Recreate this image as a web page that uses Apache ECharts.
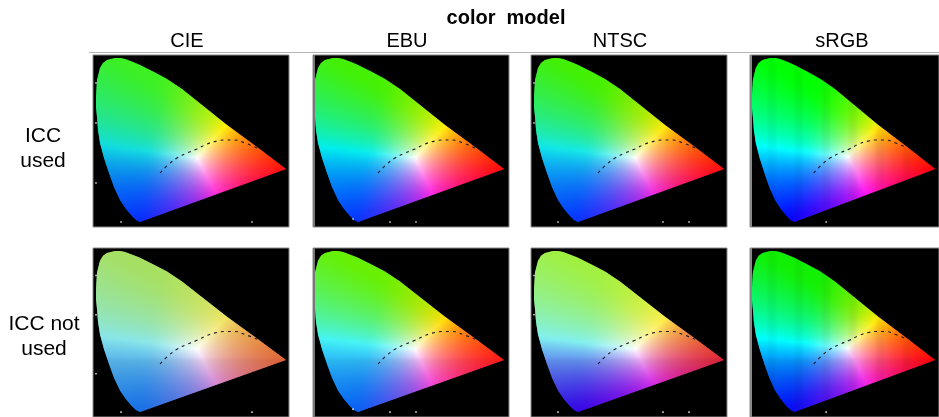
<!DOCTYPE html>
<html><head><meta charset="utf-8">
<style>html,body{margin:0;padding:0;background:#fff;overflow:hidden}#c{width:939px;height:417px}</style>
<script src="https://cdn.jsdelivr.net/npm/echarts@6/dist/echarts.min.js"></script></head>
<body><div id="c"></div>
<script>
const columns = ['CIE','EBU','NTSC','sRGB'];
const rows = ['ICC\nused','ICC not\nused'];
const heading = 'color  model';

// spectral locus outline, read in panel pixels
const locusX = [22,27,32,40,47,61,74,89,104,134,164,193,47,43,39,33,27,21,16,11,7,5,4,3,3,4,7,10,14,18];
const locusY = [3,3,4,7,10,17,24,34,46,70,92,114,167,165,161,154,145,132,118,103,88,75,62,52,42,25,13,8,5,4];
// dashed blackbody arc
const arcX = [67,75,84,94,104,114,124,133,141,152,164];
const arcY = [118,110,103,98,94,89,86,85,85,88,93];

// where red, green, blue primaries and white fall in a panel (by column)
const redXY   = [[193,115],[190,113],[192,114],[190,112]];
const greenXY = [[68,35],[72,38],[68,35],[72,42]];
const blueXY  = [[47,166],[45,165],[45,165],[43,162]];
const whiteXY = [[104,103],[104,103],[104,103],[103,102]];

// displayed colour of pure red, green, blue, yellow, cyan, magenta per panel
const shadesCIEused  = ['#ff0505','#3cf020','#0028ff','#ffee00','#10dde0','#ff20d8'];
const shadesEBUused  = ['#ff0505','#44f000','#0030ff','#ffee00','#00eeee','#ff20e0'];
const shadesNTSCused = ['#ff0505','#42f000','#0030ff','#ffe800','#11e8e8','#ee20e0'];
const shadesSRGBused = ['#ff0000','#00ff00','#0000ff','#ffee00','#00ffff','#ff10f0'];
const shadesCIEnot   = ['#e06030','#a6e060','#1070f0','#f0e460','#88e6e8','#dd88dd'];
const shadesEBUnot   = ['#ff1510','#66f000','#0060ff','#ffdd00','#44f4f4','#ff44e0'];
const shadesNTSCnot  = ['#dd2030','#a0f040','#3000ee','#ffee44','#80f0f0','#dd22ee'];
const shadesSRGBnot  = ['#ff0000','#10f000','#0008ff','#ffee00','#00ffff','#ff20f0'];
const panelShades = [shadesCIEused,shadesEBUused,shadesNTSCused,shadesSRGBused,shadesCIEnot,shadesEBUnot,shadesNTSCnot,shadesSRGBnot];
const displayGamma = 1.1;
const softEdge = 0.05;

// small white tick specks along the frame
const dotsX = [[28,159,3,3,3],[42,79,105],[27,132,158,3,3],[80]];
const dotsY = [[167,167,28,68,128],[164,167,167],[167,167,167,28,68],[167]];

const panelLeft = [93,313,531,750];
const panelShift = [0,2,0,1];
const rowTop = [55,248];
const rowSeam = [null,111];
const panelW = 196, panelH = 172;

const rgbOf = h=>{const n=parseInt(h.slice(1),16);return [n>>16,(n>>8)&255,n&255];};
function fieldFor(c,r,shades){
  const R=redXY[c],G=greenXY[c],B=blueXY[c],W=whiteXY[c];
  const det=(G[1]-B[1])*(R[0]-B[0])+(B[0]-G[0])*(R[1]-B[1]);
  const bary=(x,y)=>{const a=((G[1]-B[1])*(x-B[0])+(B[0]-G[0])*(y-B[1]))/det;
    const b=((B[1]-R[1])*(x-B[0])+(R[0]-B[0])*(y-B[1]))/det;return [a,b,1-a-b];};
  const soft=v=>.5*(v+Math.sqrt(v*v+softEdge*softEdge));
  const w=bary(W[0],W[1]).map(soft);
  const sh=shades.map(rgbOf);
  const corners=[[1,0,0,sh[0]],[0,1,0,sh[1]],[0,0,1,sh[2]],[1,1,0,sh[3]],[0,1,1,sh[4]],[1,0,1,sh[5]],[1,1,1,[255,255,255]]];
  return (x,y)=>{
    const l=bary(x,y).map((v,k)=>soft(v)/w[k]);
    const m=Math.max(l[0],l[1],l[2],1e-6);
    const g=l.map(v=>Math.pow(v/m,1/displayGamma));
    const out=[0,0,0];
    corners.forEach(q=>{
      const wt=[0,1,2].reduce((s,k)=>s*(q[k]?g[k]:1-g[k]),1);
      for(let k=0;k<3;k++) out[k]+=wt*q[3][k];
    });
    const dim=(rowSeam[r]!==null&&y>rowSeam[r])?0.96:1;
    return `rgb(${out.map(v=>Math.min(255,Math.round(v*dim))).join(',')})`;
  };
}

const grid=[],xAxis=[],yAxis=[],series=[];
let idx=0;
rows.forEach((rw,r)=>{
  columns.forEach((cl,c)=>{
    const i=idx++;
    grid.push({left:panelLeft[c],top:rowTop[r],width:panelW,height:panelH,show:true,backgroundColor:'#000',borderColor:'#8a8a8a',borderWidth:1});
    xAxis.push({type:'value',gridIndex:i,min:panelShift[c],max:panelW+panelShift[c],show:false});
    yAxis.push({type:'value',gridIndex:i,min:0,max:panelH,inverse:true,show:false});
    const field=fieldFor(c,r,panelShades[i]);
    series.push({type:'custom',xAxisIndex:i,yAxisIndex:i,silent:true,animation:false,clip:true,z:2,
      data:[[locusX[0],locusY[0]]],
      encode:{x:0,y:1},
      renderItem:(p,api)=>{
        const pts=locusX.map((x,k)=>api.coord([x,locusY[k]]));
        const yTop=api.coord([0,0])[1], yBot=api.coord([0,panelH])[1];
        const children=[];
        for(let x=0;x<panelW;x++){
          const stops=[];
          for(let y=0;y<=panelH;y+=3) stops.push({offset:y/panelH,color:field(x+.5,y)});
          const a=api.coord([x,0])[0], b=api.coord([x+1,0])[0];
          children.push({type:'rect',shape:{x:a,y:yTop,width:b-a+.6,height:yBot-yTop},
            style:{fill:{type:'linear',global:true,x:0,y:yTop,x2:0,y2:yBot,colorStops:stops}}});
        }
        return {type:'group',clipPath:{type:'polygon',shape:{points:pts}},children};
      }});
    series.push({type:'line',xAxisIndex:i,yAxisIndex:i,silent:true,animation:false,z:5,showSymbol:false,smooth:true,
      data:arcX.map((x,k)=>[x,arcY[k]]),lineStyle:{color:'#1a1a2a',width:1.1,type:[3,4]}});
    series.push({type:'scatter',xAxisIndex:i,yAxisIndex:i,silent:true,animation:false,z:6,symbol:'rect',symbolSize:1.6,
      data:dotsX[c].map((x,k)=>[x,dotsY[c][k]]),itemStyle:{color:'#fff'}});
  });
});

const font='"Liberation Sans",Arial,sans-serif';
const title=[{text:heading,left:506,top:8,padding:0,textAlign:'center',textStyle:{fontFamily:font,fontSize:20,fontWeight:'bold',color:'#000'}}];
const colCenter=[187,407,620,842];
columns.forEach((t,c)=>title.push({text:t,left:colCenter[c],top:31,padding:0,textAlign:'center',textStyle:{fontFamily:font,fontSize:20,fontWeight:'normal',color:'#000'}}));
const rowCenter=[43,44], rowLabelTop=[124,312];
rows.forEach((t,r)=>title.push({text:t,left:rowCenter[r],top:rowLabelTop[r],padding:0,textAlign:'center',textStyle:{fontFamily:font,fontSize:21,fontWeight:'normal',lineHeight:25,color:'#000'}}));

const chart=echarts.init(document.getElementById('c'));
chart.setOption({animation:false,backgroundColor:'#fff',title,grid,xAxis,yAxis,series,
  graphic:[
    {type:'line',z:10,shape:{x1:89,y1:52.5,x2:939,y2:52.5},style:{stroke:'#b5b5b5',lineWidth:1}},
    {type:'rect',z:10,shape:{x:313,y:55,width:2,height:172},style:{fill:'#777'}},
    {type:'rect',z:10,shape:{x:750,y:55,width:2,height:172},style:{fill:'#888'}},
    {type:'rect',z:10,shape:{x:313,y:248,width:2,height:172},style:{fill:'#777'}},
    {type:'rect',z:10,shape:{x:750,y:248,width:2,height:172},style:{fill:'#888'}}
  ]});
</script></body></html>
